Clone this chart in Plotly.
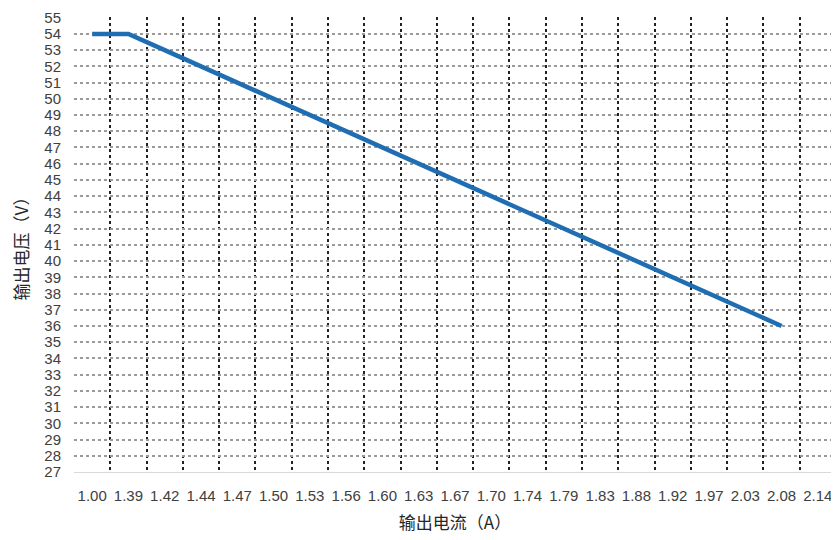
import plotly.graph_objects as go

currents = ["1.00", "1.39", "1.42", "1.44", "1.47", "1.50", "1.53", "1.56", "1.60", "1.63",
            "1.67", "1.70", "1.74", "1.79", "1.83", "1.88", "1.92", "1.97", "2.03", "2.08", "2.14"]
voltages = [54, 54, 53, 52, 51, 50, 49, 48, 47, 46,
            45, 44, 43, 42, 41, 40, 39, 38, 37, 36, None]
y_ticks = list(range(27, 56))

tick_font = dict(family="Liberation Sans Narrow, Liberation Sans, Noto Sans CJK SC", size=15, color="#404040")
xtick_font = dict(family="Liberation Sans, Noto Sans CJK SC", size=15, color="#404040")
title_font = dict(family="Noto Sans CJK SC", size=17, color="#262626")

fig = go.Figure()
fig.add_trace(go.Scatter(
    x=currents, y=voltages, mode="lines",
    line=dict(color="#1F6EB4", width=4.5),
    connectgaps=False, showlegend=False, hoverinfo="skip",
))

# page body has an 8px default margin, so the figure is sized/offset to compensate
fig.update_layout(
    width=831, height=532,
    margin=dict(l=66, r=3, t=9, b=68, autoexpand=False),
    paper_bgcolor="white", plot_bgcolor="white",
    xaxis=dict(
        type="category", categoryorder="array", categoryarray=currents,
        range=[-0.5, len(currents) - 0.5], automargin=False,
        tickson="boundaries", showgrid=True, gridcolor="#222222", griddash="dot", gridwidth=2,
        showline=True, linecolor="#d9d9d9", linewidth=1,
        ticks="", tickangle=0, tickfont=xtick_font, ticklabelstandoff=10,
        title=dict(text="输出电流（A）", font=title_font, standoff=14),
        zeroline=False,
    ),
    xaxis2=dict(
        type="category", categoryorder="array", categoryarray=currents,
        range=[-0.5, len(currents) - 0.5], overlaying="x", automargin=False,
        showgrid=True, gridcolor="#e6e6e6", gridwidth=1, griddash="dot",
        showticklabels=False, ticks="", showline=False, zeroline=False,
    ),
    yaxis=dict(
        range=[27, 55.04], tickmode="array", tickvals=y_ticks, ticktext=[str(v) for v in y_ticks],
        automargin=False, ticklabeloverflow="allow",
        showgrid=True, gridcolor="#9a9a9a", griddash="dot", gridwidth=1.5,
        ticks="", tickfont=tick_font, ticklabelstandoff=12,
        showline=False, zeroline=False,
        title=dict(text="输出电压（V）", font=title_font, standoff=14),
    ),
)

fig.write_html("out.html")
